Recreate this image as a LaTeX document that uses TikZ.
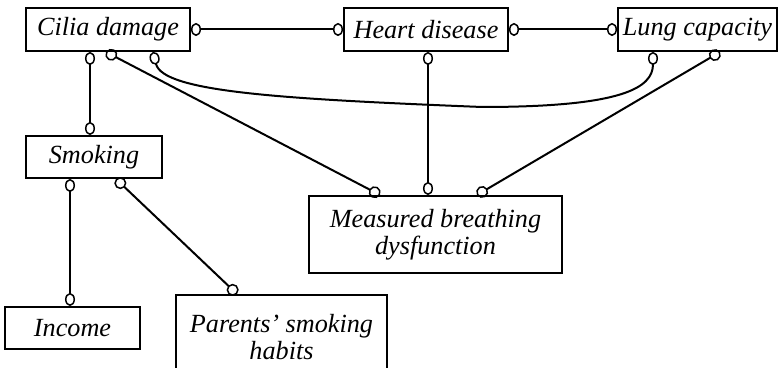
\documentclass[tikz,border=0pt]{standalone}
\usepackage{fontspec}
\setmainfont{Liberation Serif}
\usetikzlibrary{arrows.meta}

\tikzset{
  var/.style={draw, line width=1pt, inner sep=0pt, align=center,
    font=\itshape\fontsize{13.1}{13.5}\selectfont},
  hlink/.style={line width=1pt,
    {Ellipse[open, length=5pt, width=6.5pt, line width=0.75pt]}-{Ellipse[open, length=5pt, width=6.5pt, line width=0.75pt]}},
  vlink/.style={line width=1pt,
    {Ellipse[open, length=6.5pt, width=5pt, line width=0.75pt]}-{Ellipse[open, length=6.5pt, width=5pt, line width=0.75pt]}},
  dlink/.style={line width=1pt,
    {Circle[open, length=6pt, line width=0.75pt]}-{Circle[open, length=6pt, line width=0.75pt]}}
}

\begin{document}
\begin{tikzpicture}[x=0.5pt, y=-0.5pt]
    \useasboundingbox (0,0) rectangle (778,368);
    \node[var, minimum width=82pt, minimum height=21.5pt] (cilia) at (108, 29.5) {Cilia damage};
    \node[var, minimum width=82pt, minimum height=21.5pt] (heart) at (426, 29.5) {Heart disease};
    \node[var, minimum width=79.5pt, minimum height=21.5pt] (lung) at (697.5, 29.5) {Lung capacity};
    \node[var, minimum width=68pt, minimum height=21pt] (smoking) at (94, 157) {Smoking};
    \node[var, minimum width=67.5pt, minimum height=21pt] (income) at (72.5, 328) {Income};
    \node[var, minimum width=105.5pt, minimum height=42.5pt] (parents) at (281.5, 337.5) {Parents' smoking\\habits};
    \node[var, minimum width=126.5pt, minimum height=38.5pt] (measured) at (435.5, 234.5) {Measured breathing\\dysfunction};

    \draw[hlink] (cilia.east) -- (heart.west);
    \draw[hlink] (heart.east) -- (lung.west);
    \draw[vlink] ([xshift=-9pt]cilia.south) -- ([xshift=-2pt]smoking.north);
    \draw[dlink] ([xshift=-1pt]cilia.south) -- ([xshift=-27.75pt]measured.north);
    \draw[vlink] ([xshift=1pt]heart.south) -- ([xshift=-3.75pt]measured.north);
    \draw[dlink] ([xshift=11.25pt]lung.south) -- ([xshift=20.75pt]measured.north);
    \coordinate (dip) at (482, 107);
    \draw[vlink] ([xshift=22.5pt]cilia.south) .. controls +(5pt,-20pt) and +(-100pt,4pt) .. (dip)
      .. controls +(70pt,0pt) and +(0pt,-18pt) .. ([xshift=-22.25pt]lung.south);
    \draw[vlink] ([xshift=-12pt]smoking.south) -- ([xshift=-1.25pt]income.north);
    \draw[dlink] ([xshift=11pt]smoking.south) -- ([xshift=-22.25pt]parents.north);
\end{tikzpicture}
\end{document}
